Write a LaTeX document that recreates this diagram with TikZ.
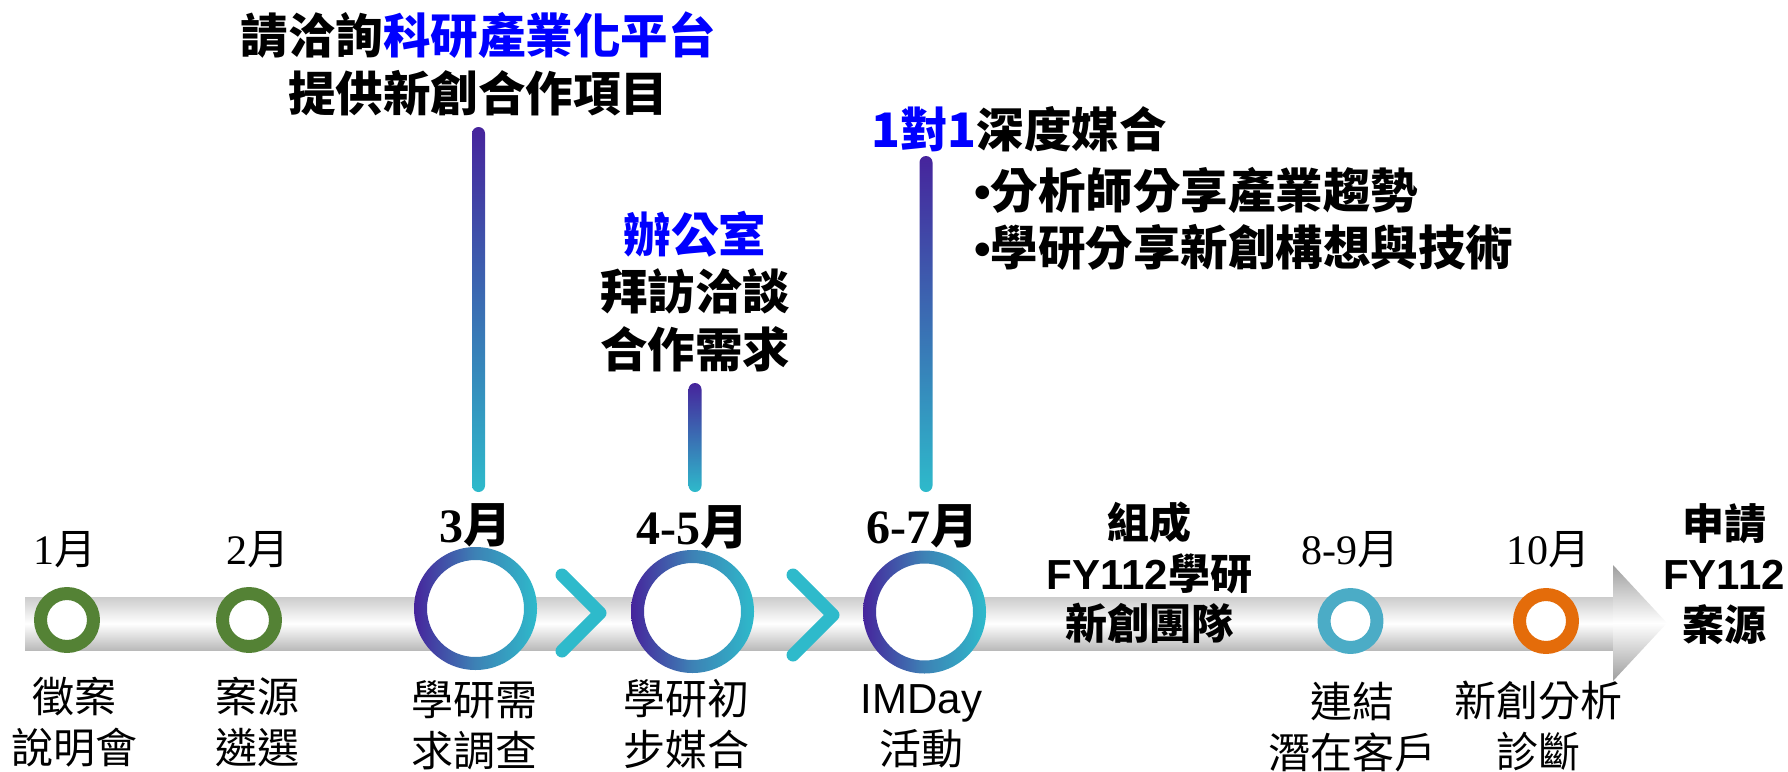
\documentclass[tikz,border=0pt]{standalone}
\usepackage{fontspec}
\setmainfont{Liberation Serif}
\newfontfamily\cjk{Noto Sans CJK TC}
\newfontfamily\arial{Liberation Sans}
\usetikzlibrary{positioning}
\definecolor{ringgreen}{HTML}{548235}
\definecolor{ringblue}{HTML}{4BACC6}
\definecolor{ringorange}{HTML}{E46C0A}
\definecolor{deeppurple}{HTML}{46249C}
\definecolor{midblue}{HTML}{3D82B5}
\definecolor{tealcyan}{HTML}{2EBACB}
\definecolor{linkblue}{HTML}{0000FF}
\begin{document}
\begin{tikzpicture}[x=1pt, y=1pt, line join=round, line cap=round,
    month/.style={inner sep=0pt, font=\fontsize{42}{50}\selectfont},
    keymonth/.style={inner sep=0pt, font=\fontsize{48}{56}\selectfont\bfseries},
    stage/.style={inner sep=0pt, align=center, font=\fontsize{42}{51}\selectfont\cjk},
    goal/.style={inner sep=0pt, align=center, font=\fontsize{42}{50.5}\selectfont\cjk\bfseries},
    note/.style={inner sep=0pt, font=\fontsize{47.5}{57.5}\selectfont\cjk\bfseries},
    ring/.style={fill=white, line width=13pt},
    gradring/.style={left color=deeppurple, right color=tealcyan, middle color=midblue, even odd rule},
    stem/.style={top color=deeppurple, bottom color=tealcyan, rounded corners=6.5pt},
    chevron/.style={draw=tealcyan, line width=13pt}]
    \useasboundingbox (0,0) rectangle (1788,-771);
    % timeline arrow
    \shade[top color=black!20, bottom color=black!27, middle color=white] (25,-597) rectangle (1613,-650);
    \shade[top color=black!38, bottom color=black!38, middle color=white] (1613,-565) -- (1667,-623) -- (1613,-681) -- cycle;
    % stems up to the notes
    \shade[stem] (472,-127) rectangle (485,-492);
    \shade[stem] (688.5,-383) rectangle (701.5,-492);
    \shade[stem] (919.5,-156) rectangle (932.5,-492);
    % rings
    \draw[ring, draw=ringgreen] (67,-620) circle (26.5pt);
    \draw[ring, draw=ringgreen] (249,-620) circle (26.5pt);
    \draw[ring, draw=ringblue] (1350.5,-621) circle (26.5pt);
    \draw[ring, draw=ringorange] (1546,-621) circle (26.5pt);
    \fill[white] (475.5,-608.5) circle (55pt);
    \shade[gradring] (475.5,-608.5) circle (61.5pt) circle (48.5pt);
    \fill[white] (692.5,-611.5) circle (55pt);
    \shade[gradring] (692.5,-611.5) circle (61.5pt) circle (48.5pt);
    \fill[white] (924.5,-612) circle (55pt);
    \shade[gradring] (924.5,-612) circle (61.5pt) circle (48.5pt);
    \draw[chevron] (562,-575) -- (600,-613) -- (562,-651);
    \draw[chevron] (793,-575) -- (833,-615) -- (793,-655);
    % months
    \node[month] (m1) at (65,-550) {1{\cjk 月}};
    \node[month] (m2) at (258,-550) {2{\cjk 月}};
    \node[keymonth] (m3) at (475,-525) {3{\cjk 月}};
    \node[keymonth] (m45) at (692.5,-527) {4-5{\cjk 月}};
    \node[keymonth] (m67) at (922.5,-526) {6-7{\cjk 月}};
    \node[month] (m89) at (1350,-550) {8-9{\cjk 月}};
    \node[month] (m10) at (1548,-550) {10{\cjk 月}};
    % stages
    \node[stage] (s1) at (74,-722.5) {徵案\\說明會};
    \node[stage] (s2) at (257,-722.5) {案源\\遴選};
    \node[stage] (s3) at (474,-725) {學研需\\求調查};
    \node[stage] (s4) at (686,-724) {學研初\\步媒合};
    \node[stage] (s5) at (921.5,-726) {{\arial IMDay}\\活動};
    \node[stage] (s6) at (1352,-727) {連結\\潛在客戶};
    \node[stage] (s7) at (1538,-725.5) {新創分析\\診斷};
    \node[goal] (team) at (1149.5,-573) {組成\\{\arial\bfseries FY112}學研\\新創團隊};
    \node[goal] (apply) at (1724,-574) {申請\\{\arial\bfseries FY112}\\案源};
    % notes
    \node[note, align=center] (n1) at (478,-64) {請洽詢\textcolor{linkblue}{科研產業化平台}\\提供新創合作項目};
    \node[note, align=center] (n2) at (695,-291.5) {\textcolor{linkblue}{辦公室}\\拜訪洽談\\合作需求};
    \node[note, anchor=west] (n3) at (871,-129) {\textcolor{linkblue}{1對1}深度媒合};
    \node[note, align=left, anchor=west] (n4) at (974,-219) {{\arial •}分析師分享產業趨勢\\{\arial •}學研分享新創構想與技術};
\end{tikzpicture}
\end{document}
